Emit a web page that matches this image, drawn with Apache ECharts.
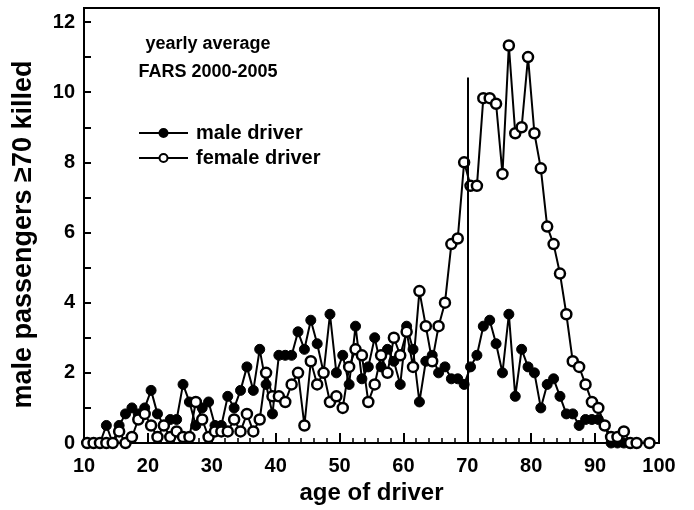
<!DOCTYPE html>
<html>
<head>
<meta charset="utf-8">
<script src="https://cdn.jsdelivr.net/npm/echarts@6/dist/echarts.min.js"></script>
<style>
    html, body { margin: 0; padding: 0; background: #fff; }
    #chart { width: 694px; height: 510px; }
</style>
</head>
<body>
<div id="chart"></div>
<script>
// age of driver (points are drawn at mid-year, age + 0.5)
var ages = [10, 11, 12, 13, 14, 15, 16, 17, 18, 19,
    20, 21, 22, 23, 24, 25, 26, 27, 28, 29,
    30, 31, 32, 33, 34, 35, 36, 37, 38, 39,
    40, 41, 42, 43, 44, 45, 46, 47, 48, 49,
    50, 51, 52, 53, 54, 55, 56, 57, 58, 59,
    60, 61, 62, 63, 64, 65, 66, 67, 68, 69,
    70, 71, 72, 73, 74, 75, 76, 77, 78, 79,
    80, 81, 82, 83, 84, 85, 86, 87, 88, 89,
    90, 91, 92, 93, 94, 95, 96, 97, 98]
// 男性驾驶员
var maleDriver = [0, 0, 0, 0.5, 0, 0.5, 0.83, 1, 0.83, 1,
    1.5, 0.83, 0.5, 0.67, 0.67, 1.67, 1.17, 0.5, 1, 1.17,
    0.5, 0.5, 1.33, 1, 1.5, 2.17, 1.5, 2.67, 1.67, 0.83,
    2.5, 2.5, 2.5, 3.17, 2.67, 3.5, 2.83, 2, 3.67, 2,
    2.5, 1.67, 3.33, 1.83, 2.17, 3, 2.17, 2.67, 2.33, 1.67,
    3.33, 2.67, 1.17, 2.33, 2.5, 2, 2.17, 1.83, 1.83, 1.67,
    2.17, 2.5, 3.33, 3.5, 2.83, 2, 3.67, 1.33, 2.67, 2.17,
    2, 1, 1.67, 1.83, 1.33, 0.83, 0.83, 0.5, 0.67, 0.67,
    0.67, 0.5, 0, 0, 0, null, null, null, null]
// 女性驾驶员
var femaleDriver = [0, 0, 0, 0, 0, 0.33, 0, 0.17, 0.67, 0.83,
    0.5, 0.17, 0.5, 0.17, 0.33, 0.17, 0.17, 1.17, 0.67, 0.17,
    0.33, 0.33, 0.33, 0.67, 0.33, 0.83, 0.33, 0.67, 2, 1.33,
    1.33, 1.17, 1.67, 2, 0.5, 2.33, 1.67, 2, 1.17, 1.33,
    1, 2.17, 2.67, 2.5, 1.17, 1.67, 2.5, 2, 3, 2.5,
    3.17, 2.17, 4.33, 3.33, 2.33, 3.33, 4, 5.67, 5.83, 8,
    7.33, 7.33, 9.83, 9.83, 9.67, 7.67, 11.33, 8.83, 9, 11,
    8.83, 7.83, 6.17, 5.67, 4.83, 3.67, 2.33, 2.17, 1.67, 1.17,
    1, 0.5, 0.17, 0.17, 0.33, 0, 0, null, 0]
var xTicks = [10, 20, 30, 40, 50, 60, 70, 80, 90, 100]
var yTicks = [0, 2, 4, 6, 8, 10, 12]
var cutoffAge = 70
var cutoffTop = 10.42

var fontName = '"Liberation Sans", Arial, sans-serif'

function toPoints(values) {
    return values.map(function (v, i) {
        return [ages[i] + 0.5, v === null ? '-' : v]
    })
}

var chart = echarts.init(document.getElementById('chart'))
var option = {
    animation: false,
    backgroundColor: '#fff',
    grid: {
        left: 84,
        right: 35,
        top: 8,
        bottom: 66,
        show: true,
        borderColor: '#000',
        borderWidth: 2
    },
    legend: {
        orient: 'vertical',
        left: 133,
        top: 118,
        itemWidth: 49,
        itemHeight: 10,
        itemGap: 5,
        selectedMode: false,
        textStyle: {
            color: '#000',
            fontSize: 20,
            lineHeight: 20,
            fontWeight: 'bold',
            fontFamily: fontName,
            padding: [0, 0, 0, 3]
        },
        data: ['male driver', 'female driver']
    },
    graphic: [
        {
            type: 'text',
            x: 208,
            y: 44,
            style: { text: 'yearly average', fill: '#000', font: 'bold 18px ' + fontName, align: 'center', verticalAlign: 'middle' }
        },
        {
            type: 'text',
            x: 208,
            y: 72,
            style: { text: 'FARS 2000-2005', fill: '#000', font: 'bold 18px ' + fontName, align: 'center', verticalAlign: 'middle' }
        }
    ],
    xAxis: {
        type: 'value',
        min: 10,
        max: 100,
        interval: 10,
        name: 'age of driver',
        nameLocation: 'middle',
        nameGap: 38,
        nameTextStyle: { color: '#000', fontSize: 24, fontWeight: 'bold', fontFamily: fontName },
        axisLine: { lineStyle: { color: '#000', width: 2 } },
        axisTick: { inside: true, length: 10, lineStyle: { color: '#000', width: 2 } },
        minorTick: { show: true, splitNumber: 5, length: 5, lineStyle: { color: '#000', width: 1.5 } },
        splitLine: { show: false },
        axisLabel: {
            color: '#000',
            fontSize: 20,
            fontWeight: 'bold',
            fontFamily: fontName,
            margin: 13,
            formatter: function (v) { return xTicks.indexOf(v) >= 0 ? String(v) : '' }
        }
    },
    yAxis: {
        type: 'value',
        min: 0,
        max: 12.4,
        interval: 1,
        name: 'male passengers \u226570 killed',
        nameLocation: 'middle',
        nameGap: 47,
        nameTextStyle: {
            color: '#000',
            fontSize: 27,
            fontWeight: 'bold',
            fontFamily: fontName,
            padding: [0, 18, 0, 0]
        },
        axisLine: { lineStyle: { color: '#000', width: 2 } },
        axisTick: { inside: true, length: 7, lineStyle: { color: '#000', width: 2 } },
        splitLine: { show: false },
        axisLabel: {
            color: '#000',
            fontSize: 20,
            fontWeight: 'bold',
            fontFamily: fontName,
            margin: 9,
            formatter: function (v) { return yTicks.indexOf(v) >= 0 ? String(v) : '' }
        }
    },
    series: [
        {
            name: 'male driver',
            type: 'line',
            data: toPoints(maleDriver),
            symbol: 'circle',
            symbolSize: 10,
            showAllSymbol: true,
            connectNulls: true,
            z: 2,
            lineStyle: { color: '#000', width: 2 },
            itemStyle: { color: '#000', borderColor: '#000', borderWidth: 1 },
            emphasis: { disabled: true },
            markLine: {
                silent: true,
                symbol: ['none', 'none'],
                label: { show: false },
                lineStyle: { color: '#000', width: 2, type: 'solid' },
                data: [[{ coord: [cutoffAge, 0] }, { coord: [cutoffAge, cutoffTop] }]]
            }
        },
        {
            name: 'female driver',
            type: 'line',
            data: toPoints(femaleDriver),
            symbol: 'circle',
            symbolSize: 10,
            showAllSymbol: true,
            connectNulls: true,
            z: 3,
            lineStyle: { color: '#000', width: 2 },
            itemStyle: { color: '#fff', borderColor: '#000', borderWidth: 2.5 },
            emphasis: { disabled: true }
        }
    ]
}
chart.setOption(option)
</script>
</body>
</html>
